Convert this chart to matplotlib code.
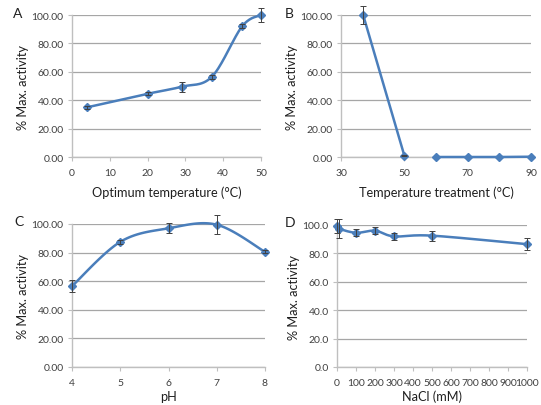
import numpy as np
import matplotlib
matplotlib.use("Agg")
from matplotlib import pyplot as plt

# panel A - optimum temperature
temp_x = [4, 20, 29, 37, 45, 50]
temp_y = [35.0, 44.5, 49.5, 56.5, 92.0, 100.0]
temp_err = [1.0, 1.0, 3.5, 1.5, 1.5, 5.0]

# panel B - temperature treatment (gap between 50 and 60)
treat_x1 = [37, 50]
treat_y1 = [100.0, 1.0]
treat_err1 = [6.5, 0.5]
treat_x2 = [60, 70, 80, 90]
treat_y2 = [0.0, 0.0, 0.0, 0.2]

# panel C - pH
ph_x = [4, 5, 6, 7, 8]
ph_y = [56.5, 87.5, 97.0, 99.5, 80.5]
ph_err = [4.0, 1.5, 3.5, 6.5, 1.0]

# panel D - NaCl
nacl_x = [0, 10, 100, 200, 300, 500, 1000]
nacl_y = [99.5, 97.5, 94.5, 96.0, 92.0, 92.5, 86.5]
nacl_err = [5.0, 7.0, 2.5, 2.5, 2.5, 3.5, 4.0]

BLUE = "#4a7ebb"
GRID = "#a6a6a6"
FONT = ["Lato", "DejaVu Sans"]
plt.rcParams["font.family"] = FONT


def smooth(xs, ys, n=30):
    # excel style smoothed line (catmull-rom bezier)
    xs = np.asarray(xs, float)
    ys = np.asarray(ys, float)
    px = np.concatenate([[xs[0]], xs, [xs[-1]]])
    py = np.concatenate([[ys[0]], ys, [ys[-1]]])
    t = np.linspace(0, 1, n)[:, None]
    out_x, out_y = [], []
    for i in range(1, len(px) - 2):
        p0 = np.array([px[i], py[i]])
        p3 = np.array([px[i + 1], py[i + 1]])
        c1 = p0 + (np.array([px[i + 1], py[i + 1]]) - np.array([px[i - 1], py[i - 1]])) / 6
        c2 = p3 - (np.array([px[i + 2], py[i + 2]]) - p0) / 6
        b = ((1 - t) ** 3) * p0 + 3 * ((1 - t) ** 2) * t * c1 + 3 * (1 - t) * t ** 2 * c2 + t ** 3 * p3
        out_x.extend(b[:, 0])
        out_y.extend(b[:, 1])
    return out_x, out_y


def style(ax, xlim, xticks, ylabel_fmt, xlabel, xpad=6):
    ax.set_xlim(*xlim)
    ax.set_ylim(0, 100)
    ax.set_xticks(xticks)
    ax.set_yticks(np.arange(0, 101, 20))
    ax.set_yticklabels([ylabel_fmt.format(v) for v in np.arange(0, 101, 20)])
    ax.grid(axis="y", color=GRID, linewidth=0.9)
    ax.set_axisbelow(True)
    for s in ["top", "right"]:
        ax.spines[s].set_visible(False)
    for s in ["left", "bottom"]:
        ax.spines[s].set_color("#bfbfbf")
        ax.spines[s].set_linewidth(1.0)
    ax.tick_params(axis="both", direction="out", length=3, width=0.8, color="#bfbfbf",
                   labelsize=7.5, labelcolor="#404040", pad=3)
    ax.tick_params(axis="x", pad=5)
    ax.set_xlabel(xlabel, fontsize=9.2, color="#202020", labelpad=xpad)
    ax.set_ylabel("% Max. activity", fontsize=9.2, color="#202020", labelpad=2)


def series(ax, x, y, err=None, curve=True):
    if curve:
        sx, sy = smooth(x, y)
    else:
        sx, sy = x, y
    ax.plot(sx, sy, color=BLUE, linewidth=1.8, clip_on=False, zorder=3)
    ax.plot(x, y, linestyle="none", marker="D", markersize=4.5, color=BLUE,
            clip_on=False, zorder=4)
    if err is not None:
        ax.errorbar(x, y, yerr=err, fmt="none", ecolor="#404040", elinewidth=0.7,
                    capsize=2, capthick=0.7, clip_on=False, zorder=5)


fig = plt.figure(figsize=(5.41, 4.06), dpi=100)
W, H = 541, 406


def add_axes(l, r, top, bottom):
    return fig.add_axes([l / W, 1 - bottom / H, (r - l) / W, (bottom - top) / H])


axA = add_axes(72, 261, 16, 158)
series(axA, temp_x, temp_y, temp_err)
style(axA, (0, 50), range(0, 51, 10), "{:.2f}", "Optimum temperature (°C)")

axB = add_axes(341, 531, 16, 158)
series(axB, treat_x1, treat_y1, treat_err1, curve=False)
series(axB, treat_x2, treat_y2, curve=False)
style(axB, (30, 90), range(30, 91, 20), "{:.2f}", "Temperature treatment (°C)")

axC = add_axes(72, 265, 225, 368)
series(axC, ph_x, ph_y, ph_err)
style(axC, (4, 8), range(4, 9), "{:.2f}", "pH", xpad=2)

axD = add_axes(337, 527, 226, 368)
series(axD, nacl_x, nacl_y, nacl_err)
style(axD, (0, 1000), range(0, 1001, 100), "{:.1f}", "NaCl (mM)", xpad=2)

for ax, letter, (lx, ly) in [(axA, "A", (18, 14)), (axB, "B", (289, 14)),
                             (axC, "C", (19, 222)), (axD, "D", (290, 223))]:
    fig.text(lx / W, 1 - ly / H, letter, fontsize=10, ha="center", va="center", color="#202020")

fig.savefig("out.png", dpi=100)
